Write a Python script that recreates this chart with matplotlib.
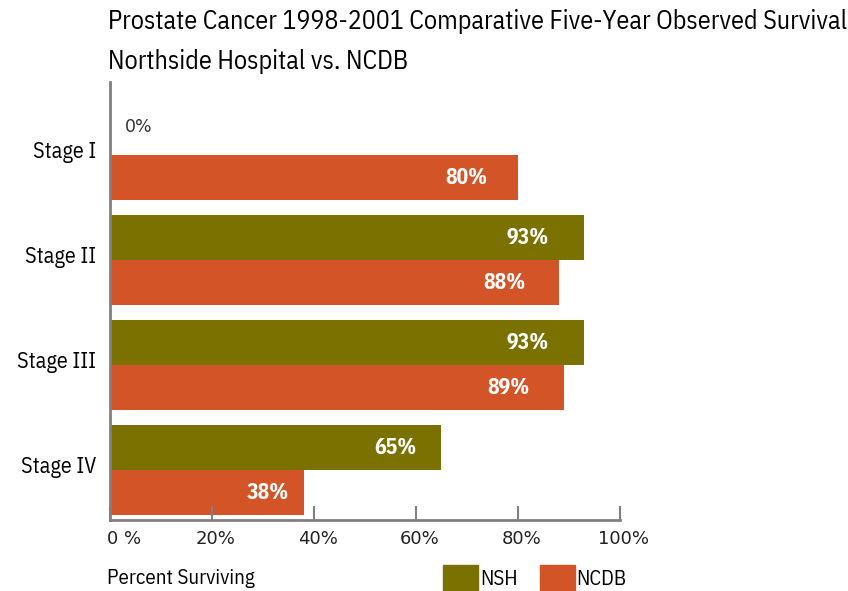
import numpy as np
import matplotlib.pyplot as plt
import matplotlib.transforms as mtransforms
from matplotlib.patches import Patch

# datos
stages = ["Stage I", "Stage II", "Stage III", "Stage IV"]
nsh = [0, 93, 93, 65]
ncdb = [80, 88, 89, 38]
xticks = [0, 20, 40, 60, 80, 100]
xticklabels = ["0 %", "20%", "40%", "60%", "80%", "100%"]

col_nsh = "#7B7100"
col_ncdb = "#D35426"
narrow = ["IBM Plex Sans Condensed", "DejaVu Sans"]

fig = plt.figure(figsize=(8.48, 5.91), dpi=100)
ax = fig.add_axes([0.1297, 0.1201, 0.6014, 0.7411])

y = np.arange(len(stages))
h = 0.4286
ax.barh(y - h / 2, nsh, height=h, color=col_nsh)
ax.barh(y + h / 2, ncdb, height=h, color=col_ncdb)

# etiquetas de valores
for i, v in enumerate(nsh):
    if v == 0:
        ax.text(3, i - h / 2 - 0.055, "0%", color="#333333", fontsize=12.5,
                ha="left", va="center")
    else:
        ax.text(v * 0.925, i - h / 2, f"{v}%", color="white", fontsize=15.5,
                fontweight="bold", family=narrow, ha="right", va="center")
for i, v in enumerate(ncdb):
    ax.text(v * 0.925, i + h / 2, f"{v}%", color="white", fontsize=15.5,
            fontweight="bold", family=narrow, ha="right", va="center")

ax.set_xlim(0, 100)
ax.set_ylim(3.476, -0.695)
ax.set_yticks(y)
ax.set_yticklabels(stages, family=narrow, fontsize=15.8)
ax.set_xticks(xticks)
ax.set_xticklabels(xticklabels, fontsize=13, color="#222222")
ax.tick_params(axis="y", length=0, pad=10)
ax.tick_params(axis="x", direction="in", length=10, width=1.5,
               color="#808080", pad=7)

# subir un poco las etiquetas de las etapas
shift = mtransforms.ScaledTranslation(0, 6 / 100, fig.dpi_scale_trans)
for lab in ax.get_yticklabels():
    lab.set_transform(lab.get_transform() + shift)

# etiquetas del eje x un poco a la derecha, "0 %" alineada a la izquierda
xshift = mtransforms.ScaledTranslation(4 / 100, 0, fig.dpi_scale_trans)
for lab in ax.get_xticklabels():
    lab.set_transform(lab.get_transform() + xshift)
first = ax.get_xticklabels()[0]
first.set_horizontalalignment("left")
first.set_transform(first.get_transform() + mtransforms.ScaledTranslation(-7 / 100, 0, fig.dpi_scale_trans))

for s in ["top", "right"]:
    ax.spines[s].set_visible(False)
for s in ["left", "bottom"]:
    ax.spines[s].set_color("#808080")
    ax.spines[s].set_linewidth(2)

fig.text(108 / 848, 1 - 22 / 591, "Prostate Cancer 1998-2001 Comparative Five-Year Observed Survival",
         family=narrow, fontsize=18.7, ha="left", va="center")
fig.text(108 / 848, 1 - 61 / 591, "Northside Hospital vs. NCDB",
         family=narrow, fontsize=18.7, ha="left", va="center")
fig.text(107 / 848, 1 - 578 / 591, "Percent Surviving",
         family=narrow, fontsize=15, ha="left", va="center")

handles = [Patch(color=col_nsh, label="NSH"), Patch(color=col_ncdb, label="NCDB")]
fig.legend(handles=handles, loc="center left", bbox_to_anchor=(443 / 848, 1 - 578 / 591),
           ncol=2, frameon=False, handlelength=1.68, handleheight=1.5,
           handletextpad=0.1, columnspacing=1.05, borderpad=0, borderaxespad=0,
           prop={"family": narrow, "size": 15})

fig.savefig("out.png", dpi=100)
